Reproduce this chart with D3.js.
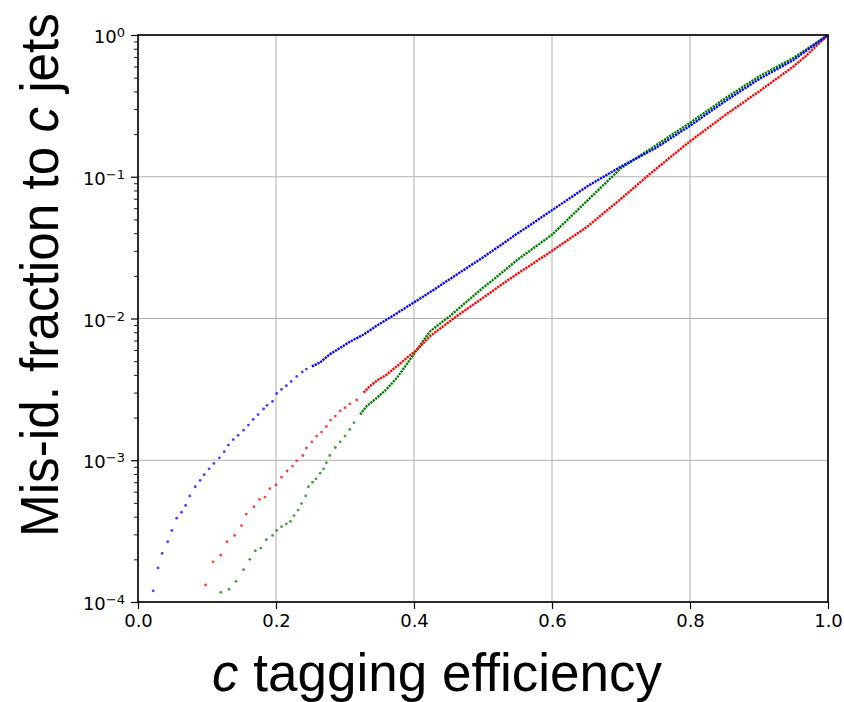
<!DOCTYPE html>
<html>
<head>
<meta charset="UTF-8">
<title>c tagging ROC</title>
<style>
  body { margin: 0; background: #fff; }
  svg { display: block; }
  .tick text { font-family: "DejaVu Sans", sans-serif; font-size: 18px; fill: #000; }
  .title { font-family: "Liberation Sans", Arial, sans-serif; font-size: 53px; fill: #000; }
</style>
</head>
<body>
<svg width="844" height="702"></svg>
<script src="https://cdnjs.cloudflare.com/ajax/libs/d3/7.8.5/d3.min.js"></script>
<script>
// axis ticks
const xTicks = [0, 0.2, 0.4, 0.6, 0.8, 1.0];
const yExponents = [-4, -3, -2, -1, 0];

// blue series: sparse markers at low efficiency, dense run after
const blueSparse = [[0.022,1.2e-4],[0.029,1.74e-4],[0.035,2.2e-4],[0.043,2.66e-4],[0.049,3.2e-4],[0.056,3.9e-4],
  [0.063,4.3e-4],[0.069,4.8e-4],[0.075,5.6e-4],[0.083,6.5e-4],[0.09,7.2e-4],[0.096,7.9e-4],[0.103,8.7e-4],
  [0.11,9.5e-4],[0.118,1.04e-3],[0.125,1.15e-3],[0.131,1.28e-3],[0.138,1.4e-3],[0.145,1.5e-3],[0.153,1.63e-3],
  [0.16,1.77e-3],[0.167,1.94e-3],[0.174,2.1e-3],[0.182,2.3e-3],[0.187,2.44e-3],[0.195,2.6e-3],[0.201,2.96e-3],
  [0.208,3.16e-3],[0.215,3.36e-3],[0.222,3.6e-3],[0.23,3.9e-3],[0.238,4.2e-3],[0.244,4.4e-3]];
const blueDense = [[0.252,4.6e-3],[0.264,4.9e-3],[0.278,5.6e-3],[0.293,6.2e-3],[0.308,6.9e-3],[0.327,7.7e-3],
  [0.346,8.9e-3],[0.37,1.05e-2],[0.399,1.29e-2],[0.423,1.53e-2],[0.45,1.87e-2],[0.5,2.7e-2],[0.55,3.98e-2],
  [0.6,5.8e-2],[0.65,8.5e-2],[0.7,0.118],[0.75,0.159],[0.8,0.229],[0.85,0.339],[0.9,0.488],[0.95,0.667],[1.0,1.0]];

// red series
const redSparse = [[0.098,1.32e-4],[0.109,1.92e-4],[0.12,2.14e-4],[0.129,2.66e-4],[0.14,2.95e-4],[0.15,3.46e-4],
  [0.157,4.17e-4],[0.168,4.7e-4],[0.176,5.3e-4],[0.184,5.5e-4],[0.191,6.3e-4],[0.2,6.7e-4],[0.208,7.6e-4],
  [0.216,8.4e-4],[0.224,9.1e-4],[0.23,9.9e-4],[0.239,1.08e-3],[0.244,1.22e-3],[0.252,1.35e-3],[0.259,1.48e-3],
  [0.266,1.58e-3],[0.273,1.73e-3],[0.279,1.92e-3],[0.286,2.05e-3],[0.293,2.23e-3],[0.3,2.35e-3],[0.307,2.5e-3],
  [0.317,2.66e-3]];
const redDense = [[0.327,3.0e-3],[0.336,3.33e-3],[0.348,3.7e-3],[0.36,4.0e-3],[0.375,4.6e-3],[0.39,5.3e-3],
  [0.404,6.0e-3],[0.423,7.5e-3],[0.462,1.04e-2],[0.5,1.4e-2],[0.537,1.88e-2],[0.6,3.0e-2],[0.65,4.4e-2],
  [0.7,0.07],[0.75,0.113],[0.8,0.178],[0.85,0.27],[0.9,0.40],[0.95,0.6],[0.969,0.72],[1.0,1.0]];

// green series
const greenSparse = [[0.12,1.17e-4],[0.132,1.23e-4],[0.142,1.4e-4],[0.153,1.69e-4],[0.162,2.0e-4],[0.17,2.3e-4],
  [0.178,2.4e-4],[0.186,2.75e-4],[0.195,2.95e-4],[0.201,3.2e-4],[0.208,3.4e-4],[0.215,3.56e-4],[0.221,3.7e-4],
  [0.226,4.07e-4],[0.232,4.45e-4],[0.237,4.95e-4],[0.243,5.6e-4],[0.247,6.5e-4],[0.253,7.0e-4],[0.258,7.4e-4],
  [0.264,8.1e-4],[0.269,8.7e-4],[0.273,9.6e-4],[0.278,1.08e-3],[0.286,1.23e-3],[0.293,1.35e-3],[0.3,1.48e-3],
  [0.307,1.65e-3],[0.313,1.84e-3]];
const greenDense = [[0.322,2.1e-3],[0.331,2.4e-3],[0.346,2.75e-3],[0.36,3.16e-3],[0.375,3.8e-3],[0.39,4.8e-3],
  [0.404,6.0e-3],[0.423,8.1e-3],[0.452,1.04e-2],[0.5,1.65e-2],[0.515,1.88e-2],[0.55,2.6e-2],[0.6,3.9e-2],
  [0.65,6.7e-2],[0.7,0.115],[0.75,0.166],[0.8,0.24],[0.85,0.355],[0.9,0.51],[0.95,0.69],[1.0,1.0]];

const series = [
  { color: '#008000', sparse: greenSparse, dense: greenDense },
  { color: '#ff0000', sparse: redSparse, dense: redDense },
  { color: '#0000ff', sparse: blueSparse, dense: blueDense }
];

const svg = d3.select('svg');
const mLeft = 138, mRight = 828, mTop = 35, mBottom = 602;

const x = d3.scaleLinear().domain([0, 1]).range([mLeft, mRight]);
const y = d3.scaleLog().domain([1e-4, 1]).range([mBottom, mTop]);
const yMajor = yExponents.map(e => Math.pow(10, e));

// grid
const grid = svg.append('g');
grid.selectAll('.gx').data(xTicks).enter().append('line')
  .attr('x1', d => x(d)).attr('x2', d => x(d))
  .attr('y1', mTop).attr('y2', mBottom)
  .attr('stroke', '#b0b0b0').attr('stroke-width', 1);
grid.selectAll('.gy').data(yMajor).enter().append('line')
  .attr('x1', mLeft).attr('x2', mRight)
  .attr('y1', d => y(d)).attr('y2', d => y(d))
  .attr('stroke', '#b0b0b0').attr('stroke-width', 1);

// series
const line = d3.line().x(d => x(d[0])).y(d => y(d[1]));
series.forEach(s => {
  svg.append('path')
    .datum(s.dense)
    .attr('d', line)
    .attr('fill', 'none')
    .attr('stroke', s.color)
    .attr('stroke-width', 2.4)
    .attr('stroke-dasharray', '2.2,0.9');
  svg.append('g').selectAll('circle')
    .data(s.sparse)
    .enter().append('circle')
    .attr('cx', d => x(d[0]))
    .attr('cy', d => y(d[1]))
    .attr('r', 1.4)
    .attr('fill', s.color)
    .attr('opacity', 0.75);
});

// x axis
svg.append('g')
  .attr('transform', `translate(0,${mBottom})`)
  .call(d3.axisBottom(x).tickValues(xTicks).tickSize(7).tickPadding(5).tickFormat(d3.format('.1f')))
  .call(g => g.select('.domain').remove())
  .call(g => g.selectAll('.tick line').attr('stroke', '#000').attr('stroke-width', 1.2));

// y axis minor ticks
const yMinor = y.ticks().filter(v => yMajor.every(m => Math.abs(v - m) > 1e-12));
svg.append('g')
  .attr('transform', `translate(${mLeft},0)`)
  .call(d3.axisLeft(y).tickValues(yMinor).tickSize(4).tickFormat(''))
  .call(g => g.select('.domain').remove())
  .call(g => g.selectAll('.tick line').attr('stroke', '#000').attr('stroke-width', 0.9));

// y axis major ticks with 10^n labels
const yAxis = svg.append('g')
  .attr('transform', `translate(${mLeft},0)`)
  .call(d3.axisLeft(y).tickValues(yMajor).tickSize(7).tickPadding(6).tickFormat(''))
  .call(g => g.select('.domain').remove())
  .call(g => g.selectAll('.tick line').attr('stroke', '#000').attr('stroke-width', 1.2));
yAxis.selectAll('.tick text')
  .attr('dy', '0.42em')
  .each(function (d) {
    const e = Math.round(Math.log10(d));
    const t = d3.select(this);
    t.text('10');
    t.append('tspan')
      .attr('dy', '-0.45em')
      .attr('font-size', '13px')
      .text(e < 0 ? '\u2212' + (-e) : String(e));
  });

// frame
svg.append('rect')
  .attr('x', mLeft).attr('y', mTop)
  .attr('width', mRight - mLeft).attr('height', mBottom - mTop)
  .attr('fill', 'none').attr('stroke', '#000').attr('stroke-width', 1.6);

// titles
const xt = svg.append('text').attr('class', 'title')
  .attr('x', 437).attr('y', 691).attr('text-anchor', 'middle');
xt.append('tspan').attr('font-style', 'italic').text('c');
xt.append('tspan').text(' tagging efficiency');

const yt = svg.append('text').attr('class', 'title')
  .attr('transform', 'translate(58,275) rotate(-90)')
  .attr('text-anchor', 'middle')
  .attr('textLength', 524)
  .attr('lengthAdjust', 'spacingAndGlyphs');
yt.append('tspan').text('Mis-id. fraction to ');
yt.append('tspan').attr('font-style', 'italic').text('c');
yt.append('tspan').text(' jets');
</script>
</body>
</html>
